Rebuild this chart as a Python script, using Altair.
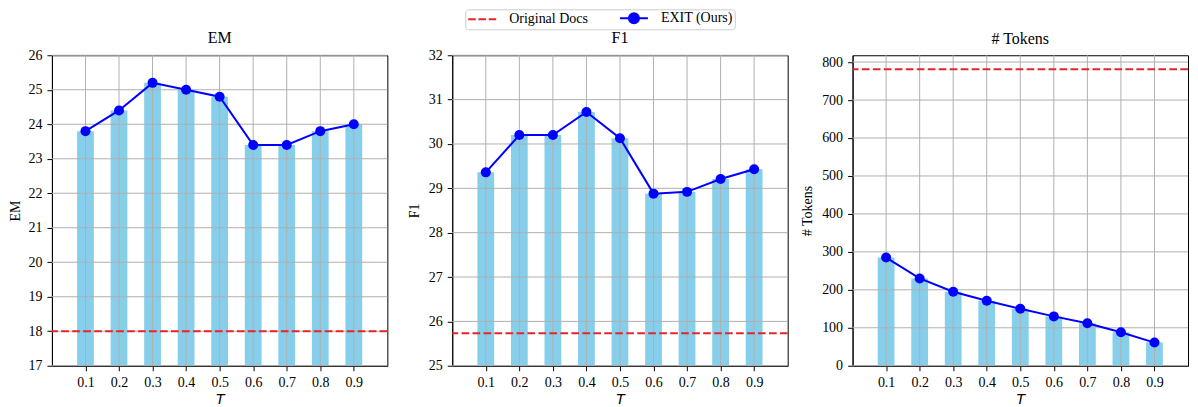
import altair as alt
import pandas as pd

# ---- data ----
T = [0.1, 0.2, 0.3, 0.4, 0.5, 0.6, 0.7, 0.8, 0.9]
em = [23.8, 24.4, 25.2, 25.0, 24.8, 23.4, 23.4, 23.8, 24.0]
f1 = [29.36, 30.20, 30.20, 30.72, 30.13, 28.88, 28.92, 29.21, 29.43]
tokens = [285, 230, 195, 171, 150, 130, 112, 88, 61]
orig_em = [18.0]
orig_f1 = [25.73]
orig_tokens = [781]
em_ticks = [17, 18, 19, 20, 21, 22, 23, 24, 25, 26]
f1_ticks = [25, 26, 27, 28, 29, 30, 31, 32]
tok_ticks = [0, 100, 200, 300, 400, 500, 600, 700, 800]
series = ["Original Docs", "EXIT (Ours)"]

RED = "#e3262b"
BLUE = "#0000ff"
BAR = "#87ceeb"
GRID = "#b0b0b0"
SERIF = "Liberation Serif"

# legend glyphs (unit = 5 px, symbol centre 6 px from the entry's left)
DASH_PATH = "M-1.2,0H0.3M0.85,0H2.35M2.9,0H4.4"
LINE_PATH = ("M-1.2,0H4.4M2.6,0A1,1,0,1,1,0.6,0"
             "A1,1,0,1,1,2.6,0Z")

W, H = 336, 311


def xenc(field):
    return alt.X(
        field,
        type="quantitative",
        scale=alt.Scale(domain=[0, 1], nice=False, zero=False),
        axis=alt.Axis(values=T, format=".1f", title="T",
                      labelFont=SERIF, labelFontSize=14, labelColor="black",
                      titleFont="DejaVu Sans", titleFontStyle="italic",
                      titleFontWeight="normal", titleColor="black",
                      titleFontSize=14, titlePadding=3, labelFlush=False,
                      labelPadding=5, grid=False, tickSize=5),
    )


def yenc(field, dom, ticks, title, tx):
    return alt.Y(
        field,
        type="quantitative",
        scale=alt.Scale(domain=dom, nice=False, zero=False),
        axis=alt.Axis(values=ticks, title=title, labelFlush=False,
                      labelFont=SERIF, labelFontSize=14, labelColor="black",
                      titleFont=SERIF, titleFontSize=14, titleColor="black",
                      titleFontWeight="normal", titleAngle=270,
                      titleX=tx, titleY=H / 2, titleAlign="center",
                      titleBaseline="middle",
                      labelPadding=5, grid=False, tickSize=5),
    )


def panel(title, vals, base, dom, ticks, ytitle, tx, toff, with_legend=False):
    df = pd.DataFrame({"T": T, "v": vals})
    tdf = pd.DataFrame({"T": T})
    gdf = pd.DataFrame({"tick": ticks})
    bdf = pd.DataFrame({"base": base})

    def ye(f):
        return yenc(f, dom, ticks, ytitle, tx)

    bars = (
        alt.Chart(df)
        .transform_calculate(x0="datum.T - 0.025", x1="datum.T + 0.025")
        .mark_bar(color=BAR, clip=True)
        .encode(x=xenc("x0"), x2="x1:Q", y=ye("v"), y2=alt.datum(dom[0]))
    )
    vgrid = alt.Chart(tdf).mark_rule(color=GRID, strokeWidth=1).encode(x=xenc("T"))
    hgrid = alt.Chart(gdf).mark_rule(color=GRID, strokeWidth=1).encode(y=ye("tick"))
    baseline = alt.Chart(bdf).mark_rule(
        color=RED, strokeDash=[7.7, 3.3], strokeWidth=2
    ).encode(y=ye("base"))
    line = alt.Chart(df).mark_line(color=BLUE, strokeWidth=2).encode(
        x=xenc("T"), y=ye("v"))
    pts = alt.Chart(df).mark_circle(color=BLUE, size=100, opacity=1).encode(
        x=xenc("T"), y=ye("v"))

    layers = [bars, vgrid, hgrid, baseline, line, pts]

    if with_legend:
        ldf = pd.DataFrame({"series": series})
        leg = alt.Legend(
            orient="none", legendX=414, legendY=-46, direction="horizontal",
            title=None, symbolSize=100, symbolStrokeWidth=2,
            labelFont=SERIF, labelFontSize=14, labelColor="black",
            labelOffset=28, columnPadding=28, padding=2,
            strokeColor="#cccccc", fillColor="white", cornerRadius=3,
            symbolOpacity=1,
        )
        dummy = (
            alt.Chart(ldf)
            .transform_filter("false")
            .mark_point(filled=True, size=100, strokeWidth=2, opacity=1)
            .encode(
                fill=alt.Fill("series:N", title=None,
                              scale=alt.Scale(domain=series, range=[RED, BLUE]),
                              legend=leg),
                stroke=alt.Stroke("series:N", title=None,
                                  scale=alt.Scale(domain=series, range=[RED, BLUE]),
                                  legend=leg),
                shape=alt.Shape("series:N", title=None,
                                scale=alt.Scale(domain=series,
                                                range=[DASH_PATH, LINE_PATH]),
                                legend=leg),
            )
        )
        layers.append(dummy)

    return alt.layer(*layers).properties(
        width=W, height=H,
        title=alt.TitleParams(title, fontSize=16, font=SERIF, frame="group",
                              fontWeight="normal", color="black", offset=toff),
    )


p1 = panel("EM", em, orig_em, [17, 26], em_ticks, "EM", -36, 2, with_legend=True)
p2 = panel("F1", f1, orig_f1, [25, 32], f1_ticks, "F1", -38, 2)
p3 = panel("# Tokens", tokens, orig_tokens, [0, 818], tok_ticks, "# Tokens", -45, 8)

chart = (
    alt.hconcat(p1, p2, p3, spacing=65, bounds="flush")
    .properties(padding=0)
    .configure(font=SERIF)
    .configure_view(stroke="black", strokeWidth=1)
    .configure_axis(
        domainColor="black", tickColor="black", labelColor="black",
        titleColor="black", labelFont=SERIF, labelFontSize=14,
        titleFont=SERIF, titleFontSize=14, titleFontWeight="normal",
        tickSize=5, domainWidth=1, tickWidth=1,
    )
)

chart.save("out.html", embed_options={"renderer": "svg", "actions": False})
